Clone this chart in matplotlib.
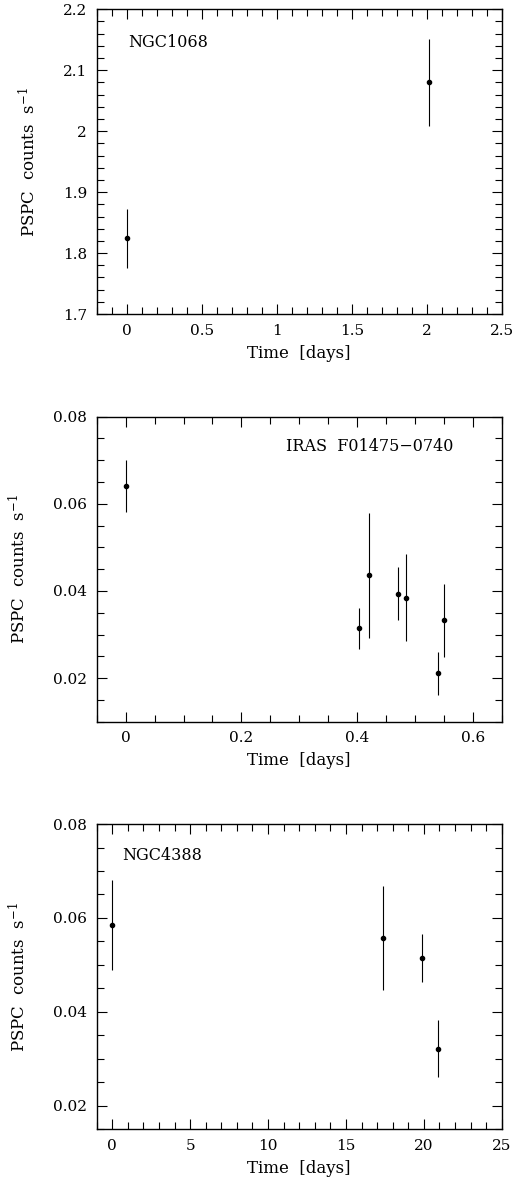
import matplotlib
matplotlib.use("Agg")
import matplotlib.pyplot as plt
from matplotlib.ticker import MultipleLocator, FuncFormatter

plt.rcParams['font.family'] = ['DejaVu Serif']
plt.rcParams['mathtext.fontset'] = 'dejavuserif'

# NGC1068
t1 = [0.0, 2.017]
r1 = [1.824, 2.080]
e1 = [0.049, 0.071]

# IRAS F01475-0740
t2 = [0.0, 0.404, 0.421, 0.4715, 0.485, 0.5395, 0.550]
r2 = [0.0641, 0.0314, 0.0436, 0.0394, 0.0384, 0.0211, 0.0333]
e2 = [0.0060, 0.0048, 0.0143, 0.0060, 0.0100, 0.0050, 0.0084]

# NGC4388
t3 = [0.0, 17.38, 19.91, 20.93]
r3 = [0.0585, 0.0557, 0.0515, 0.0322]
e3 = [0.0095, 0.0111, 0.0051, 0.0060]

panels = [
    dict(t=t1, r=r1, e=e1, name="NGC1068", pos=[0.1878, 0.7352, 0.7864, 0.2570],
         xlim=(-0.2, 2.5), ylim=(1.7, 2.2), xmaj=0.5, xmin=0.1, ymaj=0.1, ymin=0.02,
         txt=(0.01, 2.146)),
    dict(t=t2, r=r2, e=e2, name="IRAS  F01475\u22120740", pos=[0.1878, 0.3915, 0.7864, 0.2572],
         xlim=(-0.05, 0.65), ylim=(0.01, 0.08), xmaj=0.2, xmin=0.05, ymaj=0.02, ymin=0.005,
         txt=(0.277, 0.0731)),
    dict(t=t3, r=r3, e=e3, name="NGC4388", pos=[0.1878, 0.0478, 0.7864, 0.2574],
         xlim=(-1, 25), ylim=(0.015, 0.08), xmaj=5, xmin=1, ymaj=0.02, ymin=0.005,
         txt=(0.66, 0.0732)),
]

fmt = FuncFormatter(lambda v, p: "%g" % round(v, 6))

fig = plt.figure(figsize=(5.15, 11.86), dpi=100)
for p in panels:
    ax = fig.add_axes(p['pos'])
    ax.errorbar(p['t'], p['r'], yerr=p['e'], fmt='o', color='black', ms=3.0,
                elinewidth=0.8, capsize=0)
    ax.set_xlim(*p['xlim'])
    ax.set_ylim(*p['ylim'])
    ax.xaxis.set_major_locator(MultipleLocator(p['xmaj']))
    ax.xaxis.set_minor_locator(MultipleLocator(p['xmin']))
    ax.yaxis.set_major_locator(MultipleLocator(p['ymaj']))
    ax.yaxis.set_minor_locator(MultipleLocator(p['ymin']))
    ax.xaxis.set_major_formatter(fmt)
    ax.yaxis.set_major_formatter(fmt)
    ax.tick_params(which='both', direction='in', top=True, right=True, width=0.8, labelsize=11)
    ax.tick_params(which='major', length=7.5)
    ax.tick_params(which='minor', length=5)
    ax.tick_params(axis='x', pad=7)
    ax.tick_params(axis='y', pad=7)
    for s in ax.spines.values():
        s.set_linewidth(1.0)
    ax.set_xlabel("Time  [days]", fontsize=12, labelpad=5)
    ax.set_ylabel("PSPC  counts  s$^{-1}$", fontsize=12, labelpad=17)
    ax.text(p['txt'][0], p['txt'][1], p['name'], fontsize=11.5, ha='left', va='center')

fig.savefig("out.png", dpi=100)
